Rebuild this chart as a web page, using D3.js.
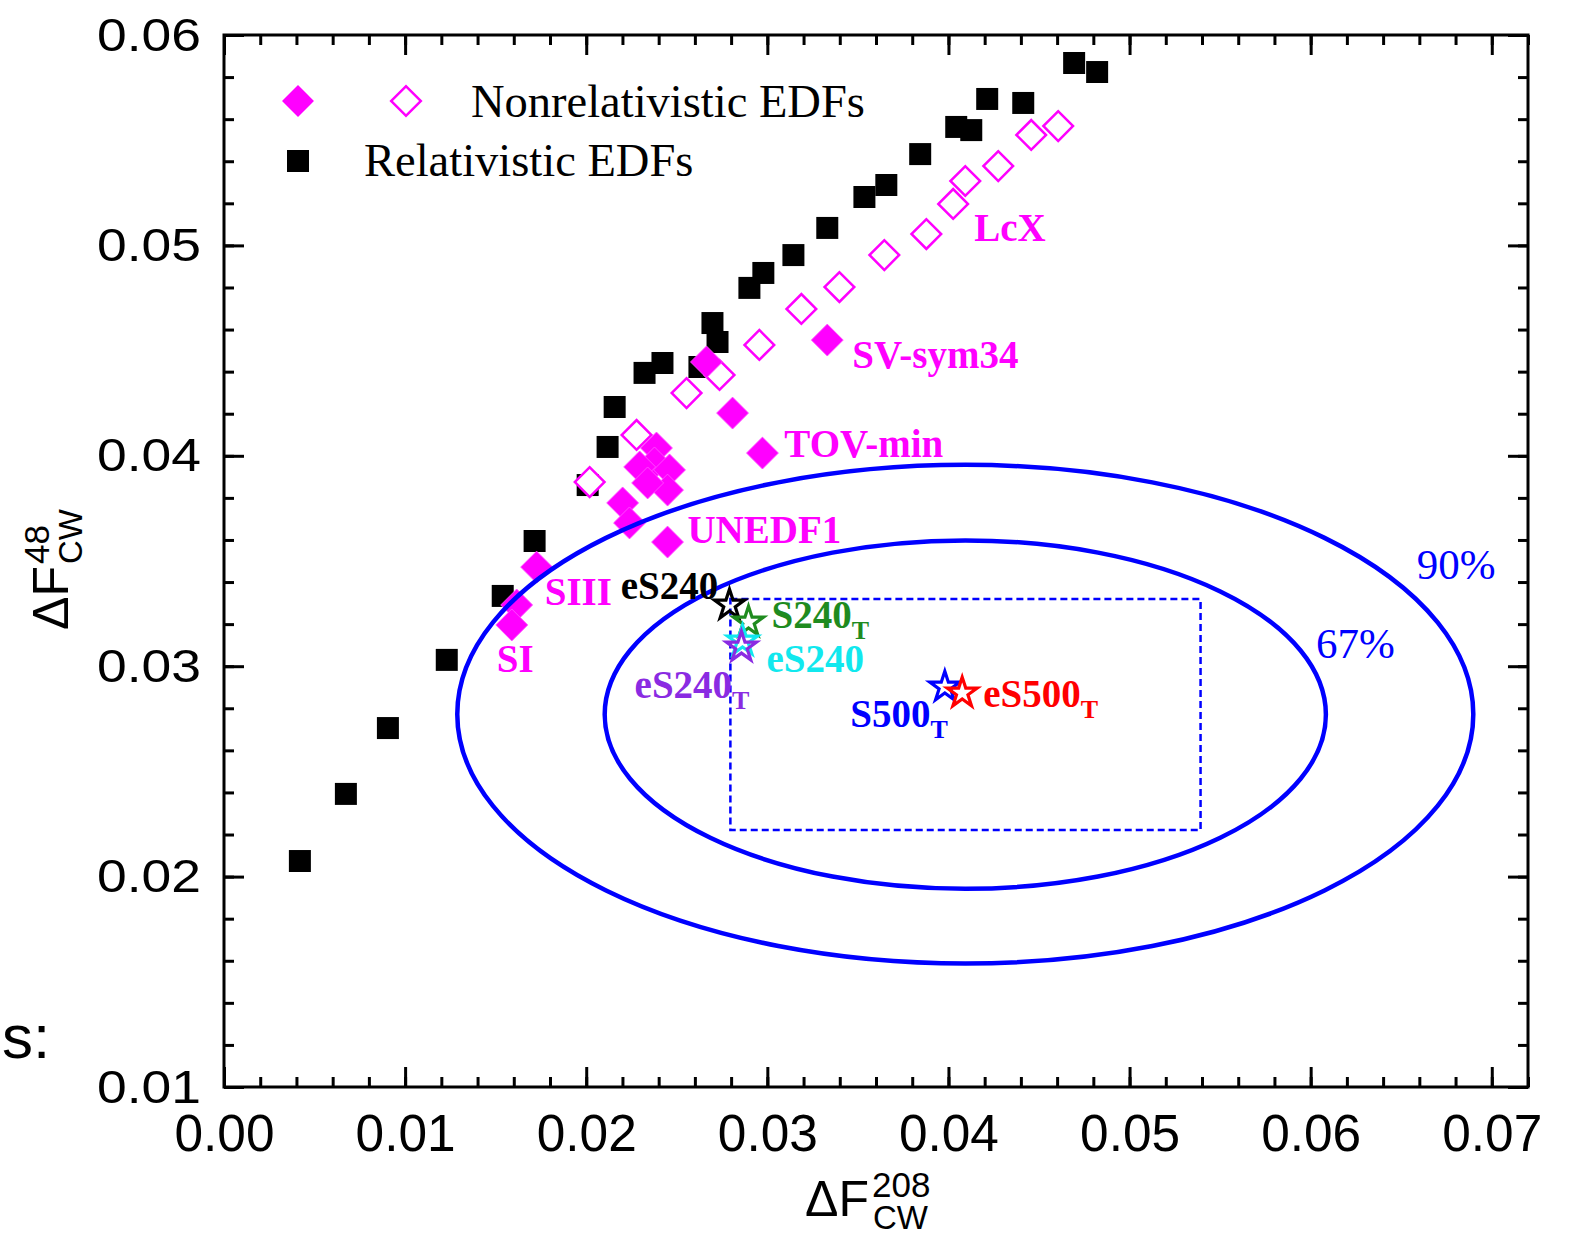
<!DOCTYPE html>
<html>
<head>
    <title>Neutron skin form factors</title>
    <style>
        body { margin: 0; background: #fff; }
        svg { display: block; }
        .serif { font-family: "Liberation Serif", "Times New Roman", serif; }
        .sans { font-family: "Liberation Sans", Arial, sans-serif; }
    </style>
</head>
<body>
<div id="chart"></div>

<script src="https://d3js.org/d3.v7.min.js"></script>
<script>
    // values: [dF208, dF48]
    const relativistic = [
        [0.00419, 0.02074], [0.00673, 0.02393], [0.00905, 0.02706], [0.01230, 0.03030],
        [0.01539, 0.03334], [0.01715, 0.03595], [0.02008, 0.03861], [0.02118, 0.04042],
        [0.02157, 0.04232], [0.02322, 0.04394], [0.02421, 0.04441], [0.02625, 0.04422],
        [0.02697, 0.04631], [0.02725, 0.04541], [0.02901, 0.04798], [0.02978, 0.04869],
        [0.03144, 0.04954], [0.03331, 0.05083], [0.03536, 0.05230], [0.03657, 0.05287],
        [0.03844, 0.05434], [0.04043, 0.05563], [0.04126, 0.05548], [0.04214, 0.05696],
        [0.04413, 0.05677], [0.04694, 0.05867], [0.04821, 0.05824]
    ];
    const nonrelOpen = [
        [0.02019, 0.03875], [0.02278, 0.04099], [0.02554, 0.04298], [0.02736, 0.04384],
        [0.02956, 0.04527], [0.03188, 0.04698], [0.03398, 0.04802], [0.03646, 0.04954],
        [0.03878, 0.05054], [0.04026, 0.05197], [0.04093, 0.05306], [0.04275, 0.05377],
        [0.04457, 0.05525], [0.04606, 0.05567]
    ];
    const nonrelFilled = [
        [0.03331, 0.04550], [0.02664, 0.04446], [0.02808, 0.04203], [0.02973, 0.04013],
        [0.02388, 0.04037], [0.02377, 0.03966], [0.02460, 0.03933], [0.02295, 0.03947],
        [0.02449, 0.03837], [0.02339, 0.03871], [0.02201, 0.03776], [0.02239, 0.03681],
        [0.02449, 0.03590], [0.01726, 0.03471], [0.01616, 0.03291], [0.01589, 0.03196]
    ];

    // stars (models with fitted weak skin)
    const starX = [0.02791, 0.02896, 0.02863, 0.02857, 0.03980, 0.04076];
    const starY = [0.03291, 0.03210, 0.03120, 0.03091, 0.02901, 0.02873];
    const starColor = ["#000000", "#1f8b1f", "#11e8ee", "#8a2be2", "#0000ff", "#ff0000"];

    // confidence ellipses: centre and half axes
    const ellipses = [
        { name: "90%", cx: 0.04093, cy: 0.02772, rx: 0.02805, ry: 0.01185 },
        { name: "67%", cx: 0.04093, cy: 0.02770, rx: 0.01991, ry: 0.00828 }
    ];
    const boxX = [0.02796, 0.05392];
    const boxY = [0.02221, 0.03319];

    const xTicks = [0, 0.01, 0.02, 0.03, 0.04, 0.05, 0.06, 0.07];
    const yTicks = [0.01, 0.02, 0.03, 0.04, 0.05, 0.06];

    // text annotations, placed in data coordinates (text, subscript, x, y, colour)
    const notes = [
        ["SV-sym34", "", 0.03469, 0.04417, "#ff00ff"],
        ["TOV-min", "", 0.03094, 0.03994, "#ff00ff"],
        ["UNEDF1", "", 0.02559, 0.03586, "#ff00ff"],
        ["SIII", "", 0.01771, 0.03291, "#ff00ff"],
        ["SI", "", 0.01506, 0.02972, "#ff00ff"],
        ["LcX", "", 0.04142, 0.05021, "#ff00ff"],
        ["eS240", "", 0.02190, 0.03319, "#000000"],
        ["S240", "T", 0.03023, 0.03182, "#1f8b1f"],
        ["eS240", "", 0.02995, 0.02972, "#11e8ee"],
        ["eS240", "T", 0.02267, 0.02849, "#8a2be2"],
        ["S500", "T", 0.03458, 0.02711, "#0000ff"],
        ["eS500", "T", 0.04192, 0.02806, "#ff0000"]
    ];

    const W = 1574, H = 1237;
    const svg = d3.select('#chart').append('svg')
        .attr('width', W)
        .attr('height', H);

    const x = d3.scaleLinear().domain([0, 0.072]).range([224, 1528]);
    const y = d3.scaleLinear().domain([0.01, 0.06]).range([1087, 35]);

    const minorX = d3.range(0, 37).map(i => i * 0.002);
    const minorY = d3.range(0, 26).map(i => 0.01 + i * 0.002);
    const fmt = d3.format(".2f");

    function styleAxis(g) {
        g.selectAll('path').remove();
        g.selectAll('line').attr('stroke', '#000').attr('stroke-width', 3);
    }

    // minor ticks on all four sides
    svg.append('g').attr('transform', `translate(0,${y(0.01)})`)
        .call(d3.axisBottom(x).tickValues(minorX).tickSize(-10).tickFormat(''))
        .call(styleAxis);
    svg.append('g').attr('transform', `translate(0,${y(0.06)})`)
        .call(d3.axisTop(x).tickValues(minorX).tickSize(-10).tickFormat(''))
        .call(styleAxis);
    svg.append('g').attr('transform', `translate(${x(0)},0)`)
        .call(d3.axisLeft(y).tickValues(minorY).tickSize(-10).tickFormat(''))
        .call(styleAxis);
    svg.append('g').attr('transform', `translate(${x(0.072)},0)`)
        .call(d3.axisRight(y).tickValues(minorY).tickSize(-10).tickFormat(''))
        .call(styleAxis);

    // major ticks
    const xAxis = svg.append('g').attr('transform', `translate(0,${y(0.01)})`)
        .call(d3.axisBottom(x).tickValues(xTicks).tickSizeInner(-20).tickSizeOuter(0)
            .tickPadding(27).tickFormat(fmt))
        .call(styleAxis);
    xAxis.selectAll('text')
        .attr('font-family', '"Liberation Sans", Arial, sans-serif')
        .attr('font-size', 52)
        .attr('textLength', 100)
        .attr('lengthAdjust', 'spacingAndGlyphs')
        .attr('fill', '#000');

    svg.append('g').attr('transform', `translate(0,${y(0.06)})`)
        .call(d3.axisTop(x).tickValues(xTicks).tickSize(-20).tickFormat(''))
        .call(styleAxis);

    const yAxis = svg.append('g').attr('transform', `translate(${x(0)},0)`)
        .call(d3.axisLeft(y).tickValues(yTicks).tickSizeInner(-20).tickSizeOuter(0)
            .tickPadding(23).tickFormat(fmt))
        .call(styleAxis);
    yAxis.selectAll('text')
        .attr('font-family', '"Liberation Sans", Arial, sans-serif')
        .attr('font-size', 47)
        .attr('textLength', 104)
        .attr('lengthAdjust', 'spacingAndGlyphs')
        .attr('fill', '#000');

    svg.append('g').attr('transform', `translate(${x(0.072)},0)`)
        .call(d3.axisRight(y).tickValues(yTicks).tickSize(-20).tickFormat(''))
        .call(styleAxis);

    // frame
    svg.append('rect')
        .attr('x', x(0)).attr('y', y(0.06))
        .attr('width', x(0.072) - x(0)).attr('height', y(0.01) - y(0.06))
        .attr('fill', 'none').attr('stroke', '#000').attr('stroke-width', 3);

    // axis titles
    const xt = svg.append('g').attr('class', 'sans').attr('fill', '#000');
    xt.append('text').attr('x', 805).attr('y', 1216).attr('font-size', 50).text('\u0394F');
    xt.append('text').attr('x', 872).attr('y', 1197).attr('font-size', 35).text('208');
    xt.append('text').attr('x', 873).attr('y', 1229).attr('font-size', 33).text('CW');

    const yt = svg.append('g').attr('class', 'sans').attr('fill', '#000')
        .attr('transform', 'translate(68,0) rotate(-90)');
    yt.append('text').attr('x', -630).attr('y', 0).attr('font-size', 50).text('\u0394F');
    yt.append('text').attr('x', -564).attr('y', -19).attr('font-size', 35).text('48');
    yt.append('text').attr('x', -564).attr('y', 14).attr('font-size', 33).text('CW');

    svg.append('text').attr('class', 'sans').attr('x', 2).attr('y', 1058)
        .attr('font-size', 62).text('s:');

    // markers
    const square = d3.symbol(d3.symbolSquare).size(484)();
    const diamond = d3.symbol(d3.symbolSquare).size(510)();
    const openDiamond = d3.symbol(d3.symbolSquare).size(440)();

    svg.append('g').selectAll('path')
        .data(relativistic).enter().append('path')
        .attr('d', square)
        .attr('transform', d => `translate(${x(d[0])},${y(d[1])})`)
        .attr('fill', '#000');

    svg.append('g').selectAll('path')
        .data(nonrelOpen).enter().append('path')
        .attr('d', openDiamond)
        .attr('transform', d => `translate(${x(d[0])},${y(d[1])}) rotate(45)`)
        .attr('fill', '#fff')
        .attr('stroke', '#ff00ff')
        .attr('stroke-width', 2.5);

    svg.append('g').selectAll('path')
        .data(nonrelFilled).enter().append('path')
        .attr('d', diamond)
        .attr('transform', d => `translate(${x(d[0])},${y(d[1])}) rotate(45)`)
        .attr('fill', '#ff00ff')
        .attr('stroke', '#ff55ff')
        .attr('stroke-width', 0.8);

    // legend
    const lg = svg.append('g');
    lg.append('path').attr('d', diamond).attr('transform', 'translate(298,101) rotate(45)')
        .attr('fill', '#ff00ff');
    lg.append('path').attr('d', openDiamond).attr('transform', 'translate(406,101) rotate(45)')
        .attr('fill', 'none').attr('stroke', '#ff00ff').attr('stroke-width', 2.5);
    lg.append('path').attr('d', square).attr('transform', 'translate(298,161)')
        .attr('fill', '#000');
    lg.append('text').attr('class', 'serif').attr('x', 471).attr('y', 117)
        .attr('font-size', 46.5).text('Nonrelativistic EDFs');
    lg.append('text').attr('class', 'serif').attr('x', 364).attr('y', 176)
        .attr('font-size', 46.5).text('Relativistic EDFs');

    // ellipses and box
    svg.append('g').selectAll('ellipse')
        .data(ellipses).enter().append('ellipse')
        .attr('cx', d => x(d.cx))
        .attr('cy', d => y(d.cy))
        .attr('rx', d => x(d.cx + d.rx) - x(d.cx))
        .attr('ry', d => y(d.cy - d.ry) - y(d.cy))
        .attr('fill', 'none')
        .attr('stroke', '#0000ff')
        .attr('stroke-width', 4.5);

    svg.append('rect')
        .attr('x', x(boxX[0])).attr('y', y(boxY[1]))
        .attr('width', x(boxX[1]) - x(boxX[0]))
        .attr('height', y(boxY[0]) - y(boxY[1]))
        .attr('fill', 'none')
        .attr('stroke', '#0000ff')
        .attr('stroke-width', 2.5)
        .attr('stroke-dasharray', '7,4');

    svg.append('text').attr('class', 'serif').attr('x', x(0.06586)).attr('y', y(0.03414))
        .attr('font-size', 43).attr('fill', '#0000ff').text('90%');
    svg.append('text').attr('class', 'serif').attr('x', x(0.06029)).attr('y', y(0.03039))
        .attr('font-size', 43).attr('fill', '#0000ff').text('67%');

    // stars
    const star = d3.symbol(d3.symbolStar).size(280)();
    svg.append('g').selectAll('path')
        .data(starX).enter().append('path')
        .attr('d', star)
        .attr('transform', (d, i) => `translate(${x(d)},${y(starY[i])})`)
        .attr('fill', 'none')
        .attr('stroke', (d, i) => starColor[i])
        .attr('stroke-width', 3.2);

    // annotations
    const nt = svg.append('g').attr('class', 'serif').attr('font-weight', 'bold');
    notes.forEach(n => {
        const t = nt.append('text')
            .attr('x', x(n[2])).attr('y', y(n[3]))
            .attr('font-size', 39)
            .attr('fill', n[4])
            .text(n[0]);
        if (n[1]) {
            t.append('tspan').attr('dy', 11).attr('font-size', 26).text(n[1]);
        }
    });
</script>
</body>
</html>
